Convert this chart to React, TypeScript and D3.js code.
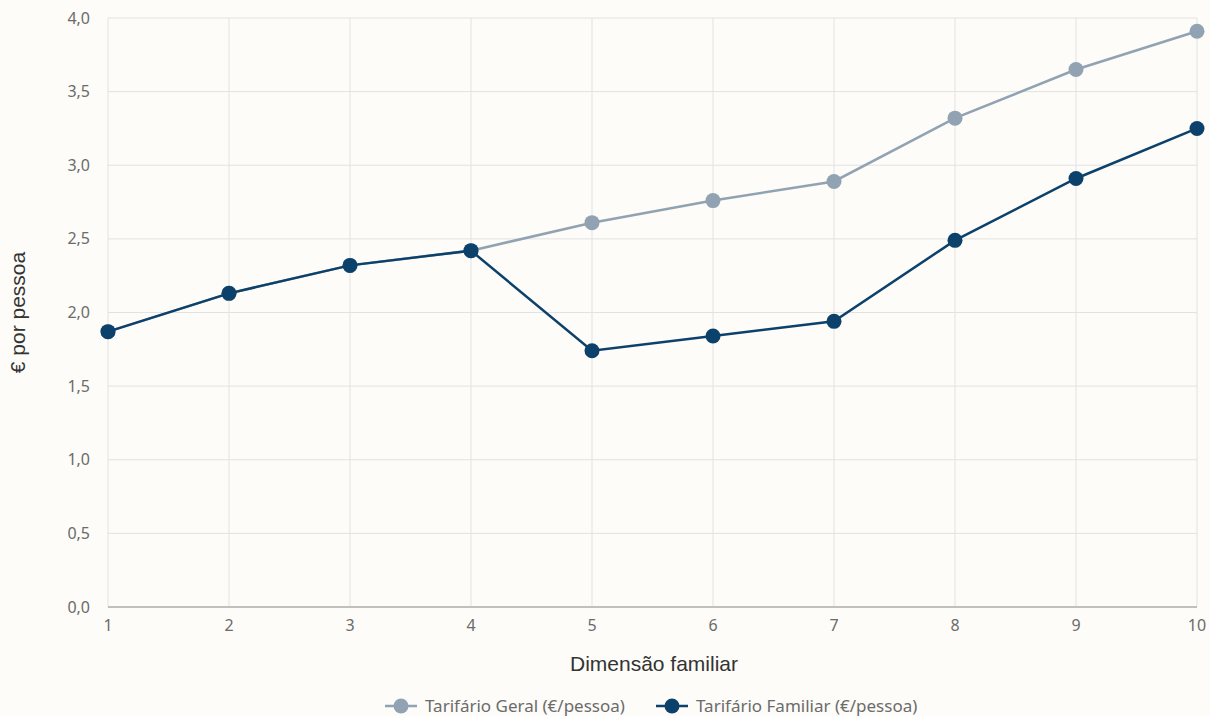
import React from "react";
import * as d3 from "d3";

const dims = [1, 2, 3, 4, 5, 6, 7, 8, 9, 10];
const geral = [1.87, 2.13, 2.32, 2.42, 2.61, 2.76, 2.89, 3.32, 3.65, 3.91];
const familiar = [1.87, 2.13, 2.32, 2.42, 1.74, 1.84, 1.94, 2.49, 2.91, 3.25];
const yTicks = [0, 0.5, 1, 1.5, 2, 2.5, 3, 3.5, 4];
const seriesNames = ["Tarifário Geral (€/pessoa)", "Tarifário Familiar (€/pessoa)"];
const seriesColors = ["#91a3b3", "#0c416b"];

const W = 1210;
const H = 716;
const M = { left: 108, right: 1197, top: 18, bottom: 607 };
const FONT = "'Noto Sans', 'Open Sans', sans-serif";
const TITLE_FONT = "'Liberation Sans', Arial, sans-serif";

export default function App() {
  const x = d3.scaleLinear().domain([1, 10]).range([M.left, M.right]);
  const y = d3.scaleLinear().domain([0, 4]).range([M.bottom, M.top]);
  const line = d3
    .line<number>()
    .x((_, i) => x(dims[i]))
    .y((d) => y(d));
  const fmt = (v: number) => v.toFixed(1).replace(".", ",");
  const series = [geral, familiar];

  const legendItems = [
    { x: 385, label: seriesNames[0], color: seriesColors[0] },
    { x: 656, label: seriesNames[1], color: seriesColors[1] },
  ];

  return (
    <div style={{ position: "absolute", left: 0, top: 0 }}>
      <svg width={W} height={H} style={{ display: "block", fontFamily: FONT }}>
        <rect x={0} y={0} width={W} height={H} fill="#fdfcf8" />
        {dims.map((d) => (
          <line key={"vx" + d} x1={x(d)} x2={x(d)} y1={M.top} y2={M.bottom} stroke="#e2e2e2" strokeWidth={1} />
        ))}
        {yTicks.map((t) => (
          <line key={"hy" + t} x1={M.left} x2={M.right} y1={y(t)} y2={y(t)} stroke="#e2e2e2" strokeWidth={1} />
        ))}
        <line x1={M.left} x2={M.right} y1={M.bottom} y2={M.bottom} stroke="#b0b0b0" strokeWidth={1.5} />
        {yTicks.map((t) => (
          <text key={"yl" + t} x={90} y={y(t)} dy="0.35em" textAnchor="end" fontSize={16} fill="#6b6b6b">
            {fmt(t)}
          </text>
        ))}
        {dims.map((d) => (
          <text key={"xl" + d} x={x(d)} y={631} textAnchor="middle" fontSize={16} fill="#6b6b6b">
            {d}
          </text>
        ))}
        <text x={(M.left + M.right) / 2 + 1.5} y={671} textAnchor="middle" fontSize={21} fill="#333" fontFamily={TITLE_FONT}>
          Dimensão familiar
        </text>
        <text
          transform={`translate(25, ${(M.top + M.bottom) / 2}) rotate(-90)`}
          textAnchor="middle"
          fontSize={21}
          fill="#333"
          fontFamily={TITLE_FONT}
        >
          € por pessoa
        </text>
        {series.map((s, si) => (
          <g key={"s" + si}>
            <path d={line(s) || ""} fill="none" stroke={seriesColors[si]} strokeWidth={2.5} />
            {s.map((v, i) => (
              <circle key={i} cx={x(dims[i])} cy={y(v)} r={7.5} fill={seriesColors[si]} />
            ))}
          </g>
        ))}
        {legendItems.map((it, i) => (
          <g key={"lg" + i}>
            <line x1={it.x} x2={it.x + 32} y1={706} y2={706} stroke={it.color} strokeWidth={2.5} />
            <circle cx={it.x + 16} cy={706} r={7.5} fill={it.color} />
            <text x={it.x + 40} y={706} dy="0.35em" fontSize={17} fill="#6b6b6b">
              {it.label}
            </text>
          </g>
        ))}
      </svg>
    </div>
  );
}
